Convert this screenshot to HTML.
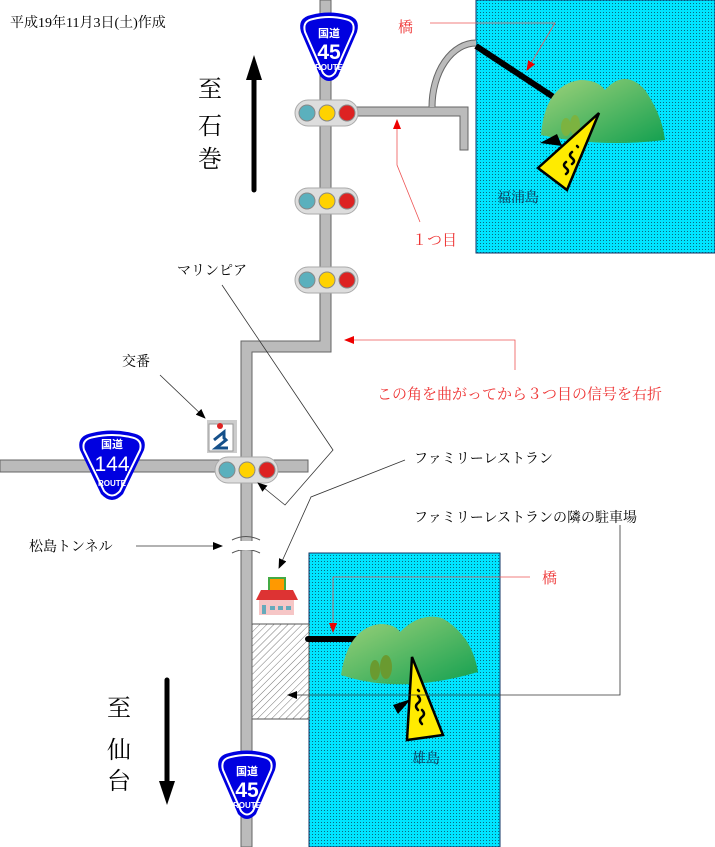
<!DOCTYPE html>
<html><head><meta charset="utf-8"><style>
html,body{margin:0;padding:0;background:#fff}
svg{display:block}
text{font-family:"Liberation Serif","Noto Serif CJK SC","Noto Sans CJK JP",serif}
.s{font-family:"Liberation Sans","Noto Sans CJK JP",sans-serif;font-weight:bold;fill:#fff}
</style></head><body>
<svg width="715" height="847" viewBox="0 0 715 847" xmlns="http://www.w3.org/2000/svg">
<defs>
<pattern id="dots" width="3" height="3" patternUnits="userSpaceOnUse"><rect width="3" height="3" fill="#00e5ff"/><rect width="1" height="1" fill="#0a6a80"/></pattern>
<pattern id="hatch" width="5" height="5" patternUnits="userSpaceOnUse" patternTransform="rotate(45)"><rect width="5" height="5" fill="#fff"/><line x1="0" y1="0" x2="0" y2="5" stroke="#777" stroke-width="1"/></pattern>
<linearGradient id="hill" x1="0" y1="0" x2="1" y2="1"><stop offset="0" stop-color="#9fd27a"/><stop offset="1" stop-color="#12a050"/></linearGradient>
<marker id="ab" markerWidth="10" markerHeight="8" refX="9" refY="4" orient="auto" markerUnits="userSpaceOnUse"><path d="M0 0L10 4L0 8z" fill="#000"/></marker>
<marker id="ar" markerWidth="10" markerHeight="8" refX="9" refY="4" orient="auto" markerUnits="userSpaceOnUse"><path d="M0 0L10 4L0 8z" fill="#e00"/></marker>
</defs>

<rect x="476" y="0" width="239" height="253" fill="url(#dots)" stroke="#136" stroke-width="1"/>
<rect x="309" y="553" width="191" height="294" fill="url(#dots)" stroke="#136" stroke-width="1"/>
<rect x="252" y="624" width="57" height="95" fill="url(#hatch)" stroke="#555"/>

<g fill="#bbb" stroke="#666" stroke-width="1">
<path d="M320 0H331V352H252V847H241V341H320Z"/>
<rect x="0" y="460" width="308" height="12"/>
<path d="M355 107H468V150H460V116H355Z"/>
</g>
<path d="M432 107A44 64 0 0 1 476 43" fill="none" stroke="#666" stroke-width="7"/>
<path d="M432 107A44 64 0 0 1 476 43" fill="none" stroke="#bbb" stroke-width="5"/>
<path d="M232 540Q246 533 260 540M232 553Q246 546 260 553" fill="none" stroke="#555"/>
<rect x="239" y="541" width="15" height="9" fill="#fff"/>

<line x1="476" y1="46" x2="555" y2="98" stroke="#000" stroke-width="6"/>
<line x1="308" y1="639" x2="360" y2="639" stroke="#000" stroke-width="6" stroke-linecap="round"/>

<path d="M541 135Q545 85 580 80Q598 80 605 90Q625 68 645 90Q662 115 665 140Q600 148 541 135Z" fill="url(#hill)"/>
<ellipse cx="566" cy="127" rx="5" ry="9" fill="#7cb340"/><ellipse cx="575" cy="125" rx="5" ry="10" fill="#7cb340"/>
<path d="M557 134L540 143L562 146Z" fill="#000"/>
<path d="M599 113L538 168L567 190Z" fill="#ffeb00" stroke="#000" stroke-width="2.5"/>
<path d="M572 152q-4 3 0 6q4 3 0 6M566 162q-4 3 0 6q4 3 0 6M577 146l1 1" fill="none" stroke="#000" stroke-width="2.5" stroke-linecap="round"/>

<path d="M341 675Q348 628 380 624Q395 624 400 632Q420 612 442 618Q472 635 478 672Q400 695 341 675Z" fill="url(#hill)"/>
<ellipse cx="375" cy="670" rx="5" ry="10" fill="#6a9a30"/><ellipse cx="386" cy="667" rx="6" ry="12" fill="#6a9a30"/>
<path d="M411 699L393 705L398 714Z" fill="#000"/>
<path d="M412 657L407 740L443 735Z" fill="#ffeb00" stroke="#000" stroke-width="2.5"/>
<path d="M418 696q4 4 0 7q-4 3 0 7M422 710q4 4 0 7q-4 3 0 7M418 690l1 1" fill="none" stroke="#000" stroke-width="2.5" stroke-linecap="round"/>

<g><rect x="295" y="100" width="63" height="26" rx="13" fill="#ddd" stroke="#aaa"/><circle cx="307" cy="113" r="8" fill="#5bb0bd" stroke="#888"/><circle cx="327" cy="113" r="8" fill="#ffd200" stroke="#888"/><circle cx="347" cy="113" r="8" fill="#d22" stroke="#888"/></g>
<g transform="translate(0,88)"><rect x="295" y="100" width="63" height="26" rx="13" fill="#ddd" stroke="#aaa"/><circle cx="307" cy="113" r="8" fill="#5bb0bd" stroke="#888"/><circle cx="327" cy="113" r="8" fill="#ffd200" stroke="#888"/><circle cx="347" cy="113" r="8" fill="#d22" stroke="#888"/></g>
<g transform="translate(0,167)"><rect x="295" y="100" width="63" height="26" rx="13" fill="#ddd" stroke="#aaa"/><circle cx="307" cy="113" r="8" fill="#5bb0bd" stroke="#888"/><circle cx="327" cy="113" r="8" fill="#ffd200" stroke="#888"/><circle cx="347" cy="113" r="8" fill="#d22" stroke="#888"/></g>
<g transform="translate(-80,357)"><rect x="295" y="100" width="63" height="26" rx="13" fill="#ddd" stroke="#aaa"/><circle cx="307" cy="113" r="8" fill="#5bb0bd" stroke="#888"/><circle cx="327" cy="113" r="8" fill="#ffd200" stroke="#888"/><circle cx="347" cy="113" r="8" fill="#d22" stroke="#888"/></g>

<rect x="207" y="420" width="30" height="33" fill="#ccc"/><rect x="209" y="424" width="24" height="27" fill="#fff" stroke="#999"/>
<circle cx="220" cy="426" r="3" fill="#d22"/><path d="M214 440L224 432V438L226 440L216 448H228" fill="none" stroke="#15508a" stroke-width="3"/>

<rect x="269" y="578" width="16" height="14" fill="#f90" stroke="#4a4" stroke-width="2"/>
<path d="M256 600L261 590H293L298 600Z" fill="#d33"/>
<rect x="259" y="600" width="35" height="15" fill="#f6c6c6"/>
<rect x="262" y="605" width="4" height="9" fill="#6ab"/><rect x="270" y="606" width="5" height="4" fill="#6ab"/><rect x="278" y="606" width="5" height="4" fill="#6ab"/><rect x="286" y="606" width="5" height="4" fill="#6ab"/>

<g transform="translate(297,12)">
<path d="M4 20Q0 6 14 3Q32 -2 50 3Q64 6 60 20L41 64Q32 74 23 64Z" fill="#0000e0"/>
<path d="M8 20Q5 9 16 7Q32 3 48 7Q59 9 56 20L38 61Q32 68 26 61Z" fill="none" stroke="#fff" stroke-width="2"/>
<text class="s" x="32" y="25" font-size="11" text-anchor="middle">国道</text>
<text class="s" x="32" y="47" font-size="21" text-anchor="middle">45</text>
<text class="s" x="32" y="58" font-size="8" text-anchor="middle">ROUTE</text>
</g>
<g transform="translate(215,750)">
<path d="M4 20Q0 6 14 3Q32 -2 50 3Q64 6 60 20L41 64Q32 74 23 64Z" fill="#0000e0"/>
<path d="M8 20Q5 9 16 7Q32 3 48 7Q59 9 56 20L38 61Q32 68 26 61Z" fill="none" stroke="#fff" stroke-width="2"/>
<text class="s" x="32" y="25" font-size="11" text-anchor="middle">国道</text>
<text class="s" x="32" y="47" font-size="21" text-anchor="middle">45</text>
<text class="s" x="32" y="58" font-size="8" text-anchor="middle">ROUTE</text>
</g>
<g transform="translate(76,430)">
<path d="M4 20Q0 6 16 3Q36 -2 56 3Q72 6 68 20L47 64Q36 76 25 64Z" fill="#0000e0"/>
<path d="M8 20Q5 9 18 7Q36 3 54 7Q67 9 64 20L44 61Q36 70 28 61Z" fill="none" stroke="#fff" stroke-width="2"/>
<text class="s" x="36" y="18" font-size="11" text-anchor="middle">国道</text>
<text x="36" y="41" font-size="21" text-anchor="middle" fill="#fff" style="font-family:'Liberation Sans',sans-serif">144</text>
<text class="s" x="36" y="56" font-size="8" text-anchor="middle">ROUTE</text>
</g>

<line x1="254" y1="75" x2="254" y2="190" stroke="#000" stroke-width="5" stroke-linecap="round"/>
<path d="M254 55L246 80H262Z" fill="#000"/>
<line x1="167" y1="680" x2="167" y2="785" stroke="#000" stroke-width="5" stroke-linecap="round"/>
<path d="M167 805L159 781H175Z" fill="#000"/>

<g fill="none" stroke="#e55" stroke-width="0.8">
<path d="M430 23H555L527 70" marker-end="url(#ar)"/>
<path d="M420 222L397 165V120" marker-end="url(#ar)"/>
<path d="M515 370V340H345" marker-end="url(#ar)"/>
<path d="M530 577H333V632" marker-end="url(#ar)"/>
</g>
<g fill="none" stroke="#333" stroke-width="0.8">
<path d="M222 285L333 450L285 505L258 483" marker-end="url(#ab)"/>
<path d="M160 375L205 418" marker-end="url(#ab)"/>
<path d="M405 460L311 497L279 568" marker-end="url(#ab)"/>
<path d="M620 525V695H288" marker-end="url(#ab)"/>
<path d="M136 546H222" marker-end="url(#ab)"/>
</g>

<text x="10" y="27" font-size="14">平成19年11月3日(土)作成</text>
<text x="198" y="97" font-size="24">至</text>
<text x="198" y="134" font-size="24">石</text>
<text x="198" y="167" font-size="24">巻</text>
<text x="107" y="716" font-size="24">至</text>
<text x="107" y="758" font-size="24">仙</text>
<text x="107" y="789" font-size="24">台</text>
<text x="398" y="32" font-size="15" fill="#e33">橋</text>
<text x="542" y="583" font-size="15" fill="#e33">橋</text>
<text x="412" y="245" font-size="15" fill="#e33">１つ目</text>
<text x="377" y="399" font-size="15" fill="#e33">この角を曲がってから３つ目の信号を右折</text>
<text x="177" y="275" font-size="14">マリンピア</text>
<text x="122" y="366" font-size="14">交番</text>
<text x="414" y="463" font-size="14">ファミリーレストラン</text>
<text x="414" y="522" font-size="14">ファミリーレストランの隣の駐車場</text>
<text x="29" y="551" font-size="14">松島トンネル</text>
<text x="497" y="202" font-size="14" fill="#135">福浦島</text>
<text x="412" y="763" font-size="14" fill="#135">雄島</text>
</svg>
</body></html>
